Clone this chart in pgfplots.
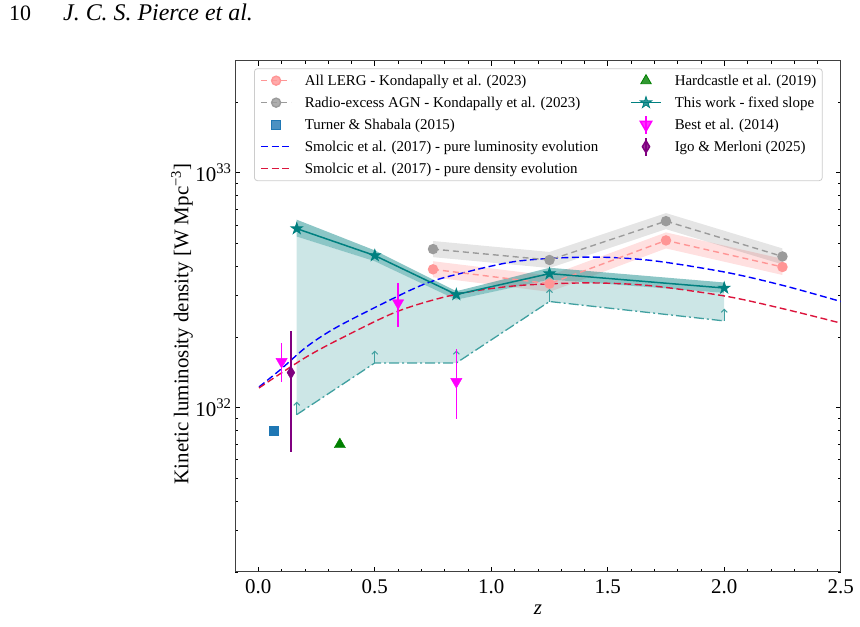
\documentclass[border=0pt]{standalone}
\usepackage{fontspec}
\setmainfont{Liberation Serif}
\usepackage{pgfplots}
\pgfplotsset{compat=1.18}
\usetikzlibrary{arrows.meta}

\definecolor{tealc}{RGB}{0,128,128}
\definecolor{lowc}{RGB}{64,160,160}
\definecolor{lergc}{RGB}{255,150,150}
\definecolor{radc}{RGB}{155,155,155}
\definecolor{turnerc}{RGB}{31,119,180}
\definecolor{crimsonc}{RGB}{220,20,60}
\definecolor{greenc}{RGB}{0,128,0}
\definecolor{magentac}{RGB}{255,0,255}
\definecolor{purplec}{RGB}{128,0,128}

% filled five-pointed star
\pgfdeclareplotmark{fstar}{%
  \pgfpathmoveto{\pgfpointpolar{90}{\pgfplotmarksize}}%
  \pgfpathlineto{\pgfpointpolar{126}{0.382\pgfplotmarksize}}%
  \pgfpathlineto{\pgfpointpolar{162}{\pgfplotmarksize}}%
  \pgfpathlineto{\pgfpointpolar{198}{0.382\pgfplotmarksize}}%
  \pgfpathlineto{\pgfpointpolar{234}{\pgfplotmarksize}}%
  \pgfpathlineto{\pgfpointpolar{270}{0.382\pgfplotmarksize}}%
  \pgfpathlineto{\pgfpointpolar{306}{\pgfplotmarksize}}%
  \pgfpathlineto{\pgfpointpolar{342}{0.382\pgfplotmarksize}}%
  \pgfpathlineto{\pgfpointpolar{18}{\pgfplotmarksize}}%
  \pgfpathlineto{\pgfpointpolar{54}{0.382\pgfplotmarksize}}%
  \pgfpathclose\pgfusepathqfillstroke}

\pgfplotsset{
  lgline/.style={legend image code/.code={%
    \draw[mark repeat=2,mark phase=2,##1] plot coordinates {(0bp,0bp) (15bp,0bp) (30bp,0bp)};}},
  lgmark/.style={legend image code/.code={%
    \draw[##1] plot[only marks] coordinates {(15bp,0bp)};}},
  lgerr/.style={legend image code/.code={%
    \draw[##1] (15bp,-9bp) -- (15bp,9bp);
    \draw[##1] plot[only marks] coordinates {(15bp,0bp)};}},
}

\begin{document}
\begin{tikzpicture}[x=1bp,y=1bp]
\useasboundingbox (0,0) rectangle (860,627);
\node[anchor=base west, inner sep=0pt, font=\fontsize{22}{26}\selectfont] at (9,606) {10};
\node[anchor=base west, inner sep=0pt, font=\fontsize{24}{28}\selectfont\itshape] at (63,606) {J. C. S. Pierce et al.};

\begin{axis}[
  at={(235bp,55bp)}, anchor=south west,
  scale only axis, width=605.7bp, height=511.3bp,
  xmin=-0.1, xmax=2.5,
  ymode=log, ymin=2e31, ymax=3e33,
  xtick={0,0.5,1,1.5,2,2.5},
  xticklabels={0.0,0.5,1.0,1.5,2.0,2.5},
  minor x tick num=4,
  ytick={1e32,1e33},
  yticklabels={10\textsuperscript{32},10\textsuperscript{33}},
  minor ytick={2e31,3e31,4e31,5e31,6e31,7e31,8e31,9e31,2e32,3e32,4e32,5e32,6e32,7e32,8e32,9e32,2e33,3e33},
  tick align=inside,
  major tick length=5bp, minor tick length=3bp,
  every tick/.style={black, line width=0.6bp},
  axis line style={black!75, line width=0.9bp},
  tick label style={font=\fontsize{21}{25}\selectfont},
  xticklabel style={yshift=-4bp},
  xlabel={\itshape z},
  ylabel={Kinetic luminosity density [W Mpc\textsuperscript{−3}]},
  every axis x label/.style={at={(axis description cs:0.5,-0.0743)}, anchor=center,
    font=\fontsize{21}{25}\selectfont},
  every axis y label/.style={at={(axis description cs:-0.0875,0.485)}, rotate=90, anchor=center,
    font=\fontsize{21}{25}\selectfont},
  legend columns=2, legend cell align=left,
  legend style={
    at={(axis description cs:0.0314,0.985)}, anchor=north west,
    draw=black!20, line width=0.8bp, rounded corners=3bp,
    fill=white, fill opacity=0.8, text opacity=1,
    font=\fontsize{15}{18}\selectfont,
    inner xsep=6bp, inner ysep=1bp,
    nodes={inner sep=0pt, text height=15.5bp, text depth=6.5bp},
    /tikz/every odd column/.append style={column sep=13bp},
    /tikz/every even column/.append style={column sep=32bp},
  },
]

% Kondapally et al. (2023): uncertainty bands
\addplot[draw=none, fill=red, fill opacity=0.12, forget plot] coordinates {
  (0.75,4.20e32) (1.25,3.65e32) (1.75,5.57e32) (2.25,4.30e32)
  (2.25,3.67e32) (1.75,4.76e32) (1.25,3.11e32) (0.75,3.59e32)} -- cycle;
\addplot[draw=none, fill=black, fill opacity=0.1, forget plot] coordinates {
  (0.75,5.12e32) (1.25,4.60e32) (1.75,6.73e32) (2.25,4.76e32)
  (2.25,4.07e32) (1.75,5.75e32) (1.25,3.93e32) (0.75,4.37e32)} -- cycle;

% This work: region between lower limits and fixed-slope band
\addplot[draw=none, fill=tealc, fill opacity=0.2, forget plot] coordinates {
  (0.165,9.34e31) (0.5,1.55e32) (0.85,1.55e32) (1.25,2.83e32) (2.0,2.34e32)
  (2.0,3.08e32) (1.25,3.51e32) (0.85,2.88e32) (0.5,4.20e32) (0.165,5.35e32)} -- cycle;
\addplot[draw=none, fill=tealc, fill opacity=0.45, forget plot] coordinates {
  (0.165,6.31e32) (0.5,4.67e32) (0.85,3.13e32) (1.25,3.94e32) (2.0,3.41e32)
  (2.0,3.08e32) (1.25,3.51e32) (0.85,2.88e32) (0.5,4.20e32) (0.165,5.35e32)} -- cycle;

% Smolcic et al. (2017)
\addplot[blue, line width=1.4bp, dash pattern=on 7bp off 3.5bp, smooth, tension=0.5, forget plot] coordinates {
  (0.003,1.225e32) (0.095,1.452e32) (0.210,1.824e32) (0.343,2.218e32) (0.598,2.979e32)
  (0.726,3.396e32) (0.847,3.681e32) (1.109,4.198e32) (1.415,4.375e32) (1.683,4.236e32)
  (2.008,3.767e32) (2.257,3.304e32) (2.500,2.831e32)};
\addplot[crimsonc, line width=1.4bp, dash pattern=on 7bp off 3.5bp, smooth, tension=0.5, forget plot] coordinates {
  (0.003,1.213e32) (0.095,1.396e32) (0.210,1.652e32) (0.343,1.945e32) (0.598,2.570e32)
  (0.847,3.034e32) (1.109,3.304e32) (1.415,3.396e32) (1.683,3.304e32) (2.008,2.979e32)
  (2.257,2.630e32) (2.500,2.291e32)};

% Kondapally et al. (2023)
\addplot[lergc, line width=1.4bp, dash pattern=on 6bp off 4bp, mark=*, mark size=4.5bp,
  mark options={solid}, forget plot] coordinates {
  (0.75,3.88e32) (1.25,3.37e32) (1.75,5.15e32) (2.25,3.97e32)};
\addplot[radc, line width=1.4bp, dash pattern=on 6bp off 4bp, mark=*, mark size=4.5bp,
  mark options={solid}, forget plot] coordinates {
  (0.75,4.73e32) (1.25,4.25e32) (1.75,6.22e32) (2.25,4.40e32)};

% This work: lower limits
\addplot[lowc, line width=1.3bp, dash pattern=on 10bp off 3bp on 2bp off 3bp, forget plot] coordinates {
  (0.165,9.34e31) (0.5,1.55e32) (0.85,1.55e32) (1.25,2.83e32) (2.0,2.34e32)};
\addplot[lowc, line width=1bp, -{Straight Barb[length=3bp,width=6bp]}, forget plot] coordinates {(0.165,9.34e31) (0.165,1.06e32)};
\addplot[lowc, line width=1bp, -{Straight Barb[length=3bp,width=6bp]}, forget plot] coordinates {(0.5,1.55e32) (0.5,1.75e32)};
\addplot[lowc, line width=1bp, -{Straight Barb[length=3bp,width=6bp]}, forget plot] coordinates {(0.85,1.55e32) (0.85,1.75e32)};
\addplot[lowc, line width=1bp, -{Straight Barb[length=3bp,width=6bp]}, forget plot] coordinates {(1.25,2.83e32) (1.25,3.20e32)};
\addplot[lowc, line width=1bp, -{Straight Barb[length=3bp,width=6bp]}, forget plot] coordinates {(2.0,2.34e32) (2.0,2.64e32)};

% This work: fixed slope
\addplot[tealc, line width=1.5bp, mark=fstar, mark size=6bp, mark options={fill=tealc, line width=0.8bp}, forget plot] coordinates {
  (0.165,5.78e32) (0.5,4.44e32) (0.85,3.03e32) (1.25,3.72e32) (2.0,3.23e32)};

% Turner & Shabala (2015)
\addplot[turnerc, only marks, mark=square*, mark size=4.5bp, forget plot] coordinates {(0.065,7.98e31)};
% Hardcastle et al. (2019)
\addplot[greenc, only marks, mark=triangle*, mark size=6.5bp, forget plot] coordinates {(0.35,6.97e31)};
% Best et al. (2014)
\addplot[magentac, only marks, mark=triangle*, mark size=6.5bp, mark options={rotate=180}, forget plot,
  error bars/.cd, y dir=both, y explicit, error mark=none,
  error bar style={line width=1.5bp, magentac}] coordinates {
  (0.10,1.57e32) += (0,0.31e32) -= (0,0.28e32)
  (0.60,2.79e32) += (0,0.61e32) -= (0,0.59e32)
  (0.85,1.29e32) += (0,0.48e32) -= (0,0.392e32)};
% Igo & Merloni (2025)
\addplot[purplec, only marks, mark=diamond*, mark size=6.5bp, mark options={xscale=0.8}, forget plot,
  error bars/.cd, y dir=both, y explicit, error mark=none,
  error bar style={line width=1.5bp, purplec}] coordinates {
  (0.14,1.41e32) += (0,0.72e32) -= (0,0.762e32)};

% legend, filled row by row
\addlegendimage{lgline, lergc, line width=1.4bp, dash pattern=on 6bp off 4bp, mark=*, mark size=4.5bp, mark options={solid}}
\addlegendentry{All LERG - Kondapally et al. (2023)}
\addlegendimage{lgmark, greenc, mark=triangle*, mark size=6bp}
\addlegendentry{Hardcastle et al. (2019)}
\addlegendimage{lgline, radc, line width=1.4bp, dash pattern=on 6bp off 4bp, mark=*, mark size=4.5bp, mark options={solid}}
\addlegendentry{Radio-excess AGN - Kondapally et al. (2023)}
\addlegendimage{lgline, tealc, line width=1.5bp, mark=fstar, mark size=6bp, mark options={fill=tealc, line width=0.8bp}}
\addlegendentry{This work - fixed slope}
\addlegendimage{lgmark, turnerc, mark=square*, mark size=4.5bp}
\addlegendentry{Turner \& Shabala (2015)}
\addlegendimage{lgerr, magentac, line width=1.5bp, mark=triangle*, mark size=6.5bp, mark options={rotate=180}}
\addlegendentry{Best et al. (2014)}
\addlegendimage{lgline, blue, line width=1.4bp, dash pattern=on 7bp off 3.5bp}
\addlegendentry{Smolcic et al. (2017) - pure luminosity evolution}
\addlegendimage{lgerr, purplec, line width=1.5bp, mark=diamond*, mark size=6bp, mark options={xscale=0.8}}
\addlegendentry{Igo \& Merloni (2025)}
\addlegendimage{lgline, crimsonc, line width=1.4bp, dash pattern=on 7bp off 3.5bp}
\addlegendentry{Smolcic et al. (2017) - pure density evolution}
\end{axis}
\end{tikzpicture}
\end{document}
